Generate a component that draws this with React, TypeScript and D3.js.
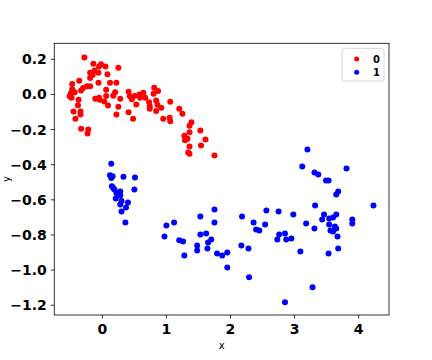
import React from 'react'
import * as d3 from 'd3'

// class 0 (red) points
const class0X = [-0.28, -0.14, -0.02, 0.05, -0.05, 0.25, -0.19, -0.12, -0.06, -0.15, 0.08, -0.19, -0.36, -0.06, 0.12, 0.22, -0.47, -0.24, -0.19, -0.30, -0.47, -0.33, 0.06, 0.20, -0.43, -0.49, 0.41, 0.81, 0.87, 0.80, 0.64, 0.58, 0.51, 0.43, 0.17, 0.06, -0.51, -0.48, -0.05, 0.67, 0.59, 0.46, 0.28, -0.11, -0.04, -0.37, 0.03, 0.84, 0.73, 1.06, 0.53, -0.38, 0.09, 0.25, 0.74, 0.86, 0.92, 0.74, 0.84, 1.20, -0.45, -0.34, -0.34, 0.41, 0.22, 1.25, -0.42, 0.48, 0.95, 1.05, 1.06, 1.39, 1.36, -0.33, -0.22, -0.23, 1.53, 1.36, 1.28, 1.33, 1.29, 1.61, 1.36, 1.54, 1.34, 1.36, 1.75]
const class0Y = [0.21, 0.174, 0.172, 0.159, 0.159, 0.152, 0.123, 0.136, 0.123, 0.11, 0.115, 0.093, 0.078, 0.066, 0.066, 0.066, 0.059, 0.047, 0.047, 0.036, 0.03, 0.023, 0.027, 0.013, 0.013, 0.007, 0.015, 0.038, 0.019, 0.004, 0.01, 0.0, -0.008, -0.011, -0.008, -0.009, -0.011, -0.019, -0.019, -0.019, -0.019, -0.028, -0.025, -0.025, -0.03, -0.03, -0.04, -0.034, -0.044, -0.042, -0.057, -0.061, -0.063, -0.07, -0.068, -0.059, -0.076, -0.081, -0.095, -0.081, -0.097, -0.097, -0.114, -0.102, -0.114, -0.11, -0.138, -0.138, -0.138, -0.133, -0.153, -0.159, -0.178, -0.195, -0.2, -0.222, -0.206, -0.216, -0.235, -0.252, -0.261, -0.257, -0.297, -0.291, -0.331, -0.337, -0.348]

// class 1 (blue) points
const class1X = [0.14, 0.12, 0.16, 0.14, 0.33, 0.51, 0.15, 0.17, 0.19, 0.28, 0.22, 0.50, 0.24, 0.28, 0.21, 0.30, 0.40, 0.28, 0.37, 0.30, 0.36, 0.97, 1.00, 1.12, 1.20, 1.26, 1.28, 1.53, 1.75, 1.75, 1.53, 1.62, 1.70, 1.65, 1.48, 1.48, 1.64, 1.79, 1.87, 1.95, 1.95, 2.18, 2.36, 2.40, 2.45, 2.17, 2.28, 2.29, 3.20, 3.12, 3.31, 3.37, 3.81, 3.49, 3.53, 3.68, 3.65, 3.32, 4.23, 2.56, 2.75, 2.98, 2.54, 3.18, 3.31, 3.46, 3.43, 3.54, 3.60, 3.65, 3.54, 3.63, 3.65, 3.56, 3.60, 3.67, 3.90, 3.90, 2.76, 2.85, 2.73, 2.87, 2.95, 3.09, 3.53, 3.68, 3.28, 2.85]
const class1Y = [-0.394, -0.46, -0.466, -0.475, -0.468, -0.473, -0.523, -0.532, -0.541, -0.553, -0.561, -0.541, -0.57, -0.576, -0.593, -0.606, -0.615, -0.627, -0.644, -0.667, -0.729, -0.808, -0.746, -0.729, -0.83, -0.837, -0.917, -0.695, -0.655, -0.729, -0.797, -0.792, -0.826, -0.843, -0.86, -0.888, -0.877, -0.905, -0.917, -0.9, -0.985, -0.695, -0.729, -0.769, -0.775, -0.86, -0.877, -1.041, -0.314, -0.41, -0.445, -0.456, -0.422, -0.49, -0.49, -0.553, -0.57, -0.632, -0.632, -0.661, -0.667, -0.684, -0.741, -0.735, -0.763, -0.684, -0.712, -0.706, -0.7, -0.684, -0.741, -0.752, -0.763, -0.775, -0.78, -0.808, -0.712, -0.735, -0.797, -0.792, -0.826, -0.826, -0.82, -0.894, -0.905, -0.877, -1.098, -1.183]

const xTicks = [0, 1, 2, 3, 4]
const yTicks = [0.2, 0.0, -0.2, -0.4, -0.6, -0.8, -1.0, -1.2]
const labels = ['0', '1']
const colors = ['#ff0000', '#0000ff']

const W = 432
const H = 360
const margin = { left: 54.3, right: 43, top: 43.3, bottom: 45 }

const App = () => {
  const x = d3.scaleLinear().domain([-0.749, 4.473]).range([margin.left, W - margin.right])
  const y = d3.scaleLinear().domain([-1.2555, 0.291]).range([H - margin.bottom, margin.top])

  const series = [
    d3.zip(class0X, class0Y),
    d3.zip(class1X, class1Y),
  ]

  const fmt = (v: number) => v.toFixed(1).replace('-', '\u2212')
  const font = 'DejaVu Sans, sans-serif'

  return (
    <svg width={W} height={H} style={{ position: 'absolute', left: 0, top: 0 }} fontFamily={font}>
      <rect width={W} height={H} fill="#fff" />

      {series.map((pts, i) => (
        <g key={i} fill={colors[i]}>
          {pts.map((d, j) => (
            <circle key={j} cx={x(d[0])} cy={y(d[1])} r={3} />
          ))}
        </g>
      ))}

      {/* frame */}
      <rect x={margin.left} y={margin.top} width={W - margin.left - margin.right}
        height={H - margin.bottom - margin.top} fill="none" stroke="#000" strokeWidth={0.8} />

      {/* x axis */}
      {xTicks.map(t => (
        <g key={t} transform={`translate(${x(t)},${H - margin.bottom})`}>
          <line y2={3.5} stroke="#000" strokeWidth={0.8} />
          <text y={19} textAnchor="middle" fontSize={14} fontWeight="bold">{t}</text>
        </g>
      ))}
      <text x={(margin.left + W - margin.right) / 2} y={349} textAnchor="middle" fontSize={10}>x</text>

      {/* y axis */}
      {yTicks.map(t => (
        <g key={t} transform={`translate(${margin.left},${y(t)})`}>
          <line x2={-3.5} stroke="#000" strokeWidth={0.8} />
          <text x={-7.5} dy="0.36em" textAnchor="end" fontSize={14} fontWeight="bold">{fmt(t)}</text>
        </g>
      ))}
      <text transform={`translate(10,${(margin.top + H - margin.bottom) / 2}) rotate(-90)`}
        textAnchor="middle" fontSize={10}>y</text>

      {/* legend */}
      <rect x={342} y={48.3} width={42} height={32.7} rx={2.5} fill="#fff" fillOpacity={0.8}
        stroke="#ccc" strokeWidth={0.8} />
      {labels.map((l, i) => (
        <g key={l} transform={`translate(0,${59 + i * 13.3})`}>
          <circle cx={356.7} cy={0} r={2.5} fill={colors[i]} />
          <text x={373} dy="0.36em" fontSize={10} fontWeight="bold">{l}</text>
        </g>
      ))}
    </svg>
  )
}

export default App
